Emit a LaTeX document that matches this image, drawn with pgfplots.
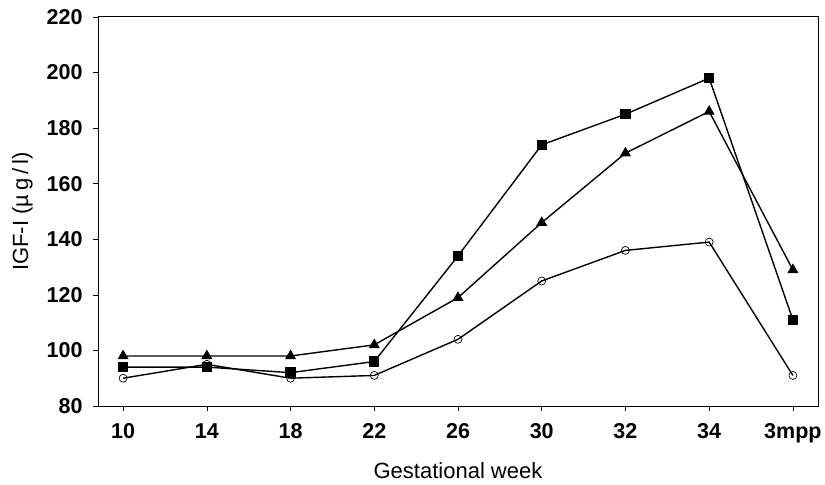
\documentclass[border=0pt]{standalone}
\usepackage{pgfplots}
\pgfplotsset{compat=1.18}
\usepackage{fontspec}
\setmainfont{Liberation Sans}
\begin{document}
\begin{tikzpicture}
\begin{axis}[
    name=ax,
    width=720bp, height=389bp,
    scale only axis,
    xmin=-0.3, xmax=8.3,
    ymin=80, ymax=220,
    xtick={0,1,2,3,4,5,6,7,8},
    xticklabels={10,14,18,22,26,30,32,34,3mpp},
    ytick={80,100,...,220},
    xtick pos=bottom, ytick pos=left,
    tick align=outside,
    major tick length=5bp,
    tick style={black, line width=0.6pt},
    axis line style={line width=1pt},
    ticklabel style={font=\fontsize{21.5bp}{25bp}\selectfont\bfseries},
    xticklabel style={text height=15bp, text depth=0bp, yshift=-9bp},
    yticklabel style={xshift=-7bp},
    /pgf/number format/assume math mode=true,
    xlabel={Gestational week},
    ylabel={IGF-I ({\addfontfeature{LetterSpace=18}µg/l})},
    label style={font=\fontsize{22bp}{26bp}\selectfont},
    xlabel style={at={(axis description cs:0.5,-0.165)}, anchor=center},
    ylabel style={at={(axis description cs:-0.105,0.5)}, anchor=center},
    every axis plot/.append style={black, line width=1.4pt},
]
% squares
\addplot[mark=square*, mark size=4.5bp] coordinates {
    (0,94) (1,94) (2,92) (3,96) (4,134) (5,174) (6,185) (7,198) (8,111)
};
% triangles
\addplot[mark=triangle*, mark size=5bp] coordinates {
    (0,98) (1,98) (2,98) (3,102) (4,119) (5,146) (6,171) (7,186) (8,129)
};
% open circles
\addplot[mark=o, mark size=4bp, mark options={line width=0.7pt, fill=white}] coordinates {
    (0,90) (1,95) (2,90) (3,91) (4,104) (5,125) (6,136) (7,139) (8,91)
};
\end{axis}
\path ([xshift=-98bp,yshift=-79bp]ax.south west) rectangle ([xshift=7bp,yshift=17bp]ax.north east);
\end{tikzpicture}
\end{document}
